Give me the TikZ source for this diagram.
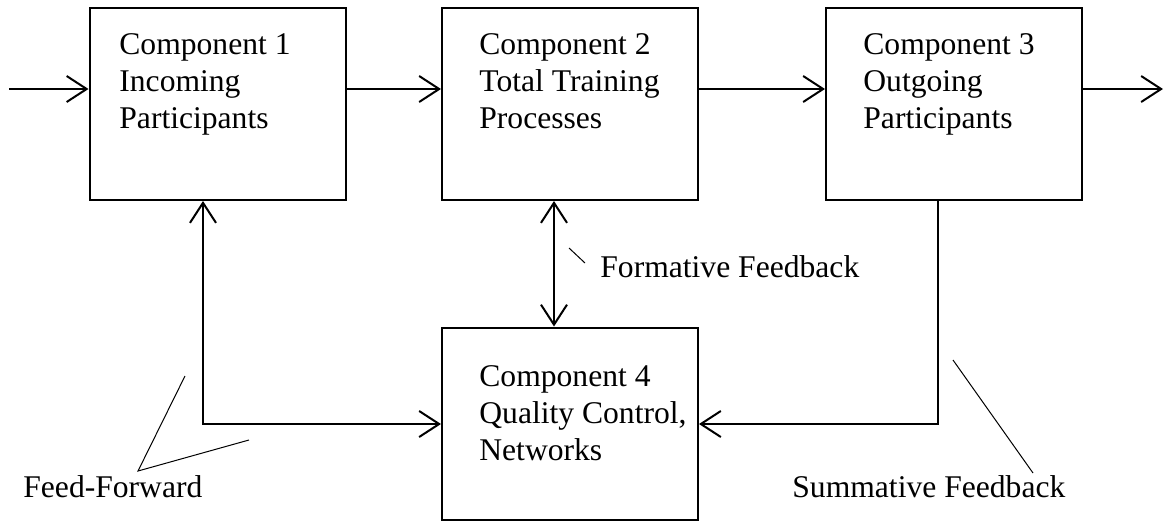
\documentclass[tikz,border=0pt]{standalone}
\usepackage{fontspec}
\setmainfont{Liberation Serif}
\usetikzlibrary{arrows.meta}
\begin{document}
\begin{tikzpicture}[x=0.5pt,y=-0.5pt,
  box/.style={draw,line width=1pt,rectangle,minimum width=128pt,minimum height=96pt,inner sep=0pt},
  boxtext/.style={anchor=base west,align=left,inner sep=0pt,font=\fontsize{15.8}{18.4}\selectfont},
  lbl/.style={anchor=base west,inner sep=0pt,font=\fontsize{15.8}{18.4}\selectfont},
  conn/.style={line width=1pt,-{Straight Barb[length=10pt,width=13pt,line width=1pt]}},
  dconn/.style={line width=1pt,{Straight Barb[length=10pt,width=13pt,line width=1pt]}-{Straight Barb[length=10pt,width=13pt,line width=1pt]}},
  leader/.style={line width=0.5pt}]
\useasboundingbox (0,0) rectangle (1164,521);
% boxes
\node[box] (c1) at (217.5,104) {};
\node[box] (c2) at (570,104) {};
\node[box] (c3) at (954,104) {};
\node[box] (c4) at (570,423.5) {};
% texts (anchored at the baseline of the last line)
\node[boxtext] (t1) at (119,128) {Component 1\\Incoming\\Participants};
\node[boxtext] (t2) at (479,128) {Component 2\\Total Training\\Processes};
\node[boxtext] (t3) at (863,128) {Component 3\\Outgoing\\Participants};
\node[boxtext] (t4) at (479,460) {Component 4\\Quality Control,\\Networks};
% labels
\node[lbl] (ff) at (23,497) {Feed-Forward};
\node[lbl] (fb) at (600,277) {Formative Feedback};
\node[lbl] (sf) at (792,497) {Summative Feedback};
% free ends
\coordinate (in) at (9,89);
\coordinate (out) at (1163,89);
\coordinate (ffc) at (203,424);
\coordinate (sfc) at (938,424);
\coordinate (fbx) at (554,0);
% connectors
\draw[conn] (in) -- (c1.west |- in);
\draw[conn] (c1.east |- in) -- (c2.west |- in);
\draw[conn] (c2.east |- in) -- (c3.west |- in);
\draw[conn] (c3.east |- in) -- (out);
\draw[dconn] (c1.south -| ffc) -- (ffc) -- (c4.west |- ffc);
\draw[dconn] (c2.south -| fbx) -- (c4.north -| fbx);
\draw[conn] (c3.south -| sfc) -- (sfc) -- (c4.east |- sfc);
% leader lines
\coordinate (ffa) at (138,471);
\coordinate (ffb) at (185,376);
\coordinate (ffd) at (249,440);
\draw[leader] (ffb) -- (ffa) -- (ffd);
\coordinate (fba) at (569,248);
\coordinate (fbb) at (585,263);
\draw[leader] (fba) -- (fbb);
\coordinate (sfa) at (953,360);
\coordinate (sfb) at (1033,473);
\draw[leader] (sfa) -- (sfb);
\end{tikzpicture}
\end{document}
